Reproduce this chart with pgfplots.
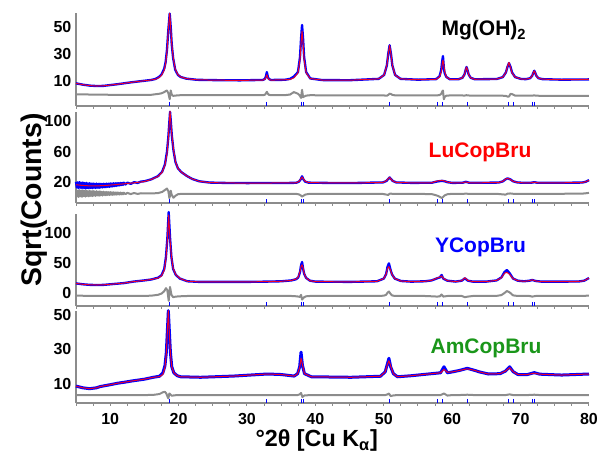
\documentclass[border=0pt]{standalone}
\usepackage{fontspec}
\setmainfont{Liberation Sans}
\usepackage{pgfplots}
\usepackage{pgfplotstable}
\pgfplotsset{compat=1.18}

\definecolor{obsblue}{RGB}{0,0,255}
\definecolor{calcred}{RGB}{235,0,40}
\definecolor{difgray}{RGB}{140,140,140}
\definecolor{amgreen}{RGB}{26,150,26}

% x  obs  calc  diff  -- Mg(OH)2
\pgfplotstableread{
x obs calc diff
5 8.3 8.3 0.1
6 7.3 7.3 0.1
7 6.6 6.6 0.0
8 6.3 6.3 0.0
9 6.4 6.4 -0.1
10 7.0 7.0 -0.2
11 7.6 7.6 -0.2
12 8.3 8.3 -0.3
13 9.0 9.0 -0.3
14 9.6 9.6 -0.3
15 10.2 10.2 -0.3
16 10.8 10.8 -0.2
16.6 11.5 11.3 0.2
17.1 12.9 12.5 0.5
17.5 14.8 14.2 0.9
17.9 19.2 18.2 1.8
18.1 24.0 22.8 2.5
18.3 33.0 31.8 3.0
18.5 48.0 48.2 1.0
18.7 60.0 60.2 -3.5
18.85 50.0 49.0 3.0
19.0 37.0 37.5 0.0
19.2 27.0 27.8 -1.0
19.5 18.5 19.0 -0.8
19.9 14.5 14.7 -0.6
20.3 13.0 13.1 -0.5
21.1 11.8 11.8 -0.5
22.7 10.9 10.9 -0.5
26 10.6 10.6 -0.5
29 10.5 10.5 -0.5
32.3 10.8 10.7 -0.5
32.6 11.5 11.2 -0.2
32.75 13.1 12.3 0.6
32.9 16.6 14.6 2.0
33.05 13.1 12.3 0.6
33.2 11.5 11.2 -0.2
33.5 10.8 10.7 -0.5
35.5 10.9 10.9 -0.5
36.3 11.6 11.2 0.0
36.85 13.3 12.3 1.8
37.45 16.6 16.0 0.6
37.75 27.8 25.9 -1.0
37.9 41.3 37.9 -2.5
38.05 51.5 47.0 3.5
38.2 41.3 37.9 -2.0
38.35 27.8 25.9 -1.5
38.65 16.6 16.0 -0.8
39.25 11.9 11.8 -0.5
41 10.7 10.7 -0.6
45 10.6 10.6 -0.6
49.25 11.6 11.6 -0.6
50.05 14.5 14.5 -0.7
50.45 21.6 21.8 -0.9
50.65 30.1 30.1 -0.3
50.85 36.5 36.5 0.6
51.05 30.1 29.8 0.4
51.25 21.6 21.6 -0.3
51.65 14.5 14.5 -0.6
52.45 11.6 11.6 -0.7
55 11.0 11.0 -0.7
57.65 11.4 11.3 -0.7
58.15 13.5 13.0 -0.4
58.4 18.3 17.0 0.5
58.52 24.1 21.8 2.0
58.65 28.5 25.5 3.0
58.78 20.0 21.8 -3.5
58.9 15.8 17.0 -1.8
59.15 13.0 13.0 -0.8
59.65 11.3 11.3 -0.7
60.9 11.3 11.3 -0.7
61.5 12.4 12.4 -0.7
61.8 14.9 14.9 -0.8
61.95 18.0 18.0 -0.6
62.1 20.4 20.4 -0.5
62.25 18.0 18.0 -0.7
62.4 14.9 14.9 -0.7
62.7 12.4 12.4 -0.8
63.3 11.3 11.3 -0.8
66.5 11.5 11.5 -0.8
67.4 12.9 12.9 -0.9
67.85 16.3 16.3 -1.0
68.08 20.4 20.8 -1.5
68.3 23.3 23.8 -1.5
68.53 20.4 19.9 0.5
68.75 16.3 16.0 0.3
69.2 12.9 12.9 -0.8
70.1 11.5 11.5 -0.9
70.8 11.4 11.4 -0.9
71.4 12.1 12.1 -0.9
71.7 13.9 13.9 -0.9
71.85 16.0 16.0 -0.7
72.0 17.6 17.6 -0.6
72.15 16.0 16.0 -0.8
72.3 13.9 13.9 -0.9
72.6 12.1 12.1 -0.9
73.2 11.4 11.4 -1.0
76 11.0 11.0 -1.0
80 11.2 11.2 -1.0
}\tabMg

% LuCopBru
\pgfplotstableread{
x obs calc diff
5 20.3 16.5 9.6
5.125 12.8 16.35 0.9
5.25 19.6 16.2 8.7
5.375 12.0 16.1 0.4
5.5 19.9 16.0 9.4
5.625 12.6 15.85 1.3
5.75 19.1 15.7 8.9
5.875 11.9 15.6 0.6
6 19.3 15.5 9.1
6.125 12.3 15.45 1.5
6.25 18.6 15.4 8.4
6.375 11.6 15.3 0.9
6.5 18.9 15.2 8.8
6.625 12.1 15.15 1.6
6.75 18.2 15.1 8.1
6.875 11.8 15.05 1.2
7 18.5 15.0 8.6
7.125 12.2 15.0 1.9
7.25 17.9 15.0 7.9
7.375 11.9 15.0 1.4
7.5 18.1 15.0 8.3
7.625 12.4 15.0 2.1
7.75 17.7 15.0 7.7
7.875 12.1 15.0 1.8
8 17.9 15.0 8.0
8.125 12.6 15.05 2.4
8.25 17.6 15.1 7.5
8.375 12.3 15.1 2.0
8.5 17.8 15.1 7.8
8.625 12.9 15.15 2.6
8.75 17.5 15.2 7.2
8.875 12.8 15.25 2.3
9 17.8 15.3 7.4
9.125 13.3 15.4 2.9
9.25 17.6 15.5 6.9
9.375 13.2 15.55 2.6
9.5 17.9 15.6 7.1
9.625 13.7 15.7 3.1
9.75 17.8 15.8 6.7
9.875 13.6 15.9 2.9
10 18.2 16.0 6.9
10.125 14.1 16.1 3.3
10.25 18.1 16.2 6.5
10.375 14.2 16.3 3.1
10.5 18.4 16.4 6.6
10.625 14.7 16.5 3.5
10.75 18.3 16.6 6.3
10.875 14.9 16.7 3.4
11 18.6 16.8 6.4
11.125 15.3 16.9 3.7
11.25 18.5 17.0 6.1
11.375 15.6 17.1 3.6
11.5 18.8 17.2 6.2
11.625 16.0 17.3 3.9
11.75 18.8 17.4 5.9
11.875 16.3 17.5 3.8
12 19.1 17.6 6.0
12.25 16.8 17.85 4.1
12.5 19.2 18.1 5.8
13 17.6 18.5 4.2
13.5 19.8 19.0 5.6
14 18.8 19.5 4.4
14.5 20.6 20.0 5.3
15 21.0 20.8 5.0
16 23.5 23.3 5.0
17 27.8 27.5 5.5
17.6 33.5 33.0 7.0
18.0 43.0 42.0 9.5
18.3 59.5 57.0 11.5
18.5 79.0 78.0 8.0
18.65 99.0 99.0 -1.0
18.75 112.0 113.0 2.0
18.85 101.0 99.5 8.6
19.0 82.0 83.0 3.0
19.25 61.5 63.0 -0.6
19.55 46.0 46.5 2.0
19.9 38.0 38.0 4.0
20.4 33.0 33.0 4.5
21.2 28.0 28.0 4.5
22 24.0 24.0 4.6
23 21.0 21.0 4.6
24.5 19.3 19.3 4.6
27 18.8 18.8 4.6
30 18.6 18.6 4.6
33 18.7 18.7 4.5
36 18.8 18.8 4.5
37.2 19.0 19.0 4.4
37.6 20.5 20.8 3.8
37.85 23.5 24.0 2.5
38.05 27.5 26.5 1.0
38.25 23.5 24.0 2.0
38.5 20.5 21.0 3.5
39 19.2 19.3 4.3
42 18.8 18.8 4.5
46 18.8 18.8 4.5
49.9 19.5 19.5 4.3
50.4 21.5 21.8 3.5
50.65 24.0 24.5 3.0
50.85 26.0 26.0 4.6
51.05 24.0 23.8 4.8
51.3 21.5 21.5 4.4
51.8 19.5 19.5 4.4
54 18.9 18.9 4.5
57.0 19.0 19.0 4.2
57.6 20.3 20.8 2.8
58.0 21.0 21.6 1.5
58.5 21.5 22.2 -1.0
58.9 21.0 21.3 2.5
59.3 19.8 19.9 4.0
60 18.9 18.9 4.5
61.5 19.0 19.0 4.4
62.0 20.3 20.1 4.8
62.5 19.0 19.0 4.4
64 19.0 19.0 4.5
66.8 19.3 19.3 4.3
67.4 20.8 20.9 3.8
67.8 23.5 23.8 3.5
68.1 24.8 24.8 4.8
68.5 23.5 23.3 5.0
68.9 21.0 21.0 4.6
69.5 19.5 19.5 4.5
70.3 19.0 19.0 4.5
71.5 19.0 19.0 4.5
72.0 19.8 19.8 4.6
72.5 19.0 19.0 4.5
76 19.0 19.0 4.6
79 19.3 19.3 4.8
79.5 20.3 20.3 5.2
80 22.5 22.3 5.8
}\tabLu

% YCopBru
\pgfplotstableread{
x obs calc diff
5 16.0 16.0 -4.5
6 14.5 14.5 -4.6
7 13.6 13.6 -4.8
8 13.3 13.3 -5.0
9 13.5 13.5 -5.0
10 14.5 14.5 -5.0
11 15.5 15.5 -5.0
12 16.5 16.5 -5.0
13.4 19.0 19.0 -5.0
15 21.0 21.0 -4.8
16 22.5 22.5 -4.5
17 25.5 25.0 -3.0
17.5 29.5 28.5 -1.0
17.9 40.0 38.0 3.0
18.15 60.0 57.0 8.0
18.35 90.0 88.0 5.0
18.55 135.0 130.0 -13.0
18.75 92.0 88.0 10.0
18.95 60.0 61.0 -3.0
19.2 40.0 41.0 -7.0
19.6 30.0 30.5 -6.0
20.2 24.0 24.2 -5.5
21.3 19.5 19.5 -5.0
23 18.5 18.5 -5.0
26 18.5 18.5 -5.0
30 18.5 18.5 -5.0
33 19.0 19.0 -5.0
35 19.5 19.5 -5.0
36.5 21.0 21.0 -5.0
37.2 23.0 23.3 -5.5
37.5 26.0 27.0 -6.0
37.75 35.0 36.0 -6.5
37.9 46.0 44.0 -3.0
38.05 51.7 47.0 -11.0
38.2 41.0 42.0 -9.0
38.35 32.0 33.0 -7.0
38.65 25.0 25.0 -5.5
39.2 20.5 20.5 -5.0
40 19.0 19.0 -5.0
45 18.5 18.5 -5.0
49 19.5 19.5 -5.0
50.0 24.0 24.0 -4.5
50.35 32.0 32.0 -3.0
50.55 44.0 41.0 0.5
50.75 49.4 44.0 2.5
50.95 40.0 39.0 -1.0
51.2 31.0 31.0 -4.0
51.6 24.0 24.0 -5.0
52.5 20.0 20.0 -5.0
54 18.9 18.9 -5.0
56 19.5 19.5 -5.0
57 21.0 21.0 -5.5
57.8 24.5 25.0 -6.0
58.2 26.0 26.5 -5.5
58.45 30.0 28.5 -2.5
58.7 24.0 24.5 -6.0
59.3 20.5 20.5 -5.0
60.5 19.0 19.0 -5.0
61.4 20.5 20.5 -5.0
61.85 24.5 25.5 -7.0
62.3 20.5 20.8 -6.0
63 19.0 19.0 -5.0
65 19.0 19.0 -5.0
66.5 21.0 21.0 -4.8
67.2 26.0 25.5 -3.5
67.65 35.0 33.0 0.0
68.0 38.3 34.4 3.3
68.4 33.0 31.0 1.0
68.9 24.0 24.0 -4.0
69.6 20.5 20.5 -5.0
70.5 19.5 19.5 -5.0
71.3 20.5 20.5 -5.0
71.7 21.7 22.0 -6.0
72.2 20.0 20.0 -5.0
73 19.0 19.0 -5.0
76 18.9 18.9 -5.0
78.5 19.2 19.2 -5.0
79.3 20.5 20.5 -4.8
79.7 23.0 23.0 -4.5
80 25.0 25.0 -4.5
}\tabY

% AmCopBru
\pgfplotstableread{
x obs calc diff
5 8.8 8.8 3.6
6 7.8 7.8 3.6
7 7.3 7.3 3.6
8 7.8 7.8 3.6
8.5 8.5 8.5 3.6
10 9.6 9.6 3.6
11 10.4 10.4 3.6
12 11.0 11.0 3.6
13.4 11.9 11.9 3.6
15 12.8 12.8 3.6
16.3 13.9 13.9 3.7
17.2 14.5 14.3 4.2
17.7 16.5 15.5 5.2
18.0 20.5 19.5 5.5
18.2 28.0 27.5 4.5
18.35 40.0 40.0 3.0
18.5 52.5 52.5 1.7
18.65 40.5 39.5 4.5
18.8 28.5 28.0 4.0
19.0 20.0 20.0 3.2
19.3 16.5 16.5 3.4
19.8 14.8 14.8 3.6
20.3 14.2 14.2 3.6
23.2 13.9 13.9 3.6
28 14.6 14.6 3.6
33 15.8 15.8 3.6
35 15.5 15.5 3.6
36.9 14.6 14.6 3.6
37.4 16.0 16.0 3.6
37.7 20.0 19.5 4.0
37.9 28.5 25.0 4.8
38.1 21.0 21.5 2.5
38.4 16.0 16.0 3.4
39.4 14.2 14.2 3.6
45.2 13.9 13.9 3.6
49.5 14.5 14.5 3.6
50.2 17.0 17.0 3.6
50.55 22.0 21.5 4.0
50.75 24.9 23.5 4.5
51.0 20.0 20.5 3.0
51.4 16.0 16.0 3.4
52 14.2 14.2 3.6
54 14.8 14.8 3.6
56.5 15.8 15.8 3.6
58.3 16.5 16.5 3.6
58.8 20.0 18.5 4.5
59.3 16.5 16.8 3.3
60 17.0 17.0 3.6
61 17.8 17.8 3.6
62.2 19.1 18.8 3.8
63.2 18.0 18.0 3.6
64 17.0 17.0 3.6
65.3 15.8 15.8 3.6
67 16.0 16.0 3.6
67.8 17.5 17.5 3.6
68.4 20.0 19.5 4.0
68.9 17.2 17.2 3.6
69.6 15.5 15.5 3.6
71 15.5 15.5 3.6
72.0 16.6 16.3 3.8
72.8 15.7 15.7 3.6
76 15.2 15.2 3.6
80 15.8 15.8 3.6
}\tabAm

% reflection positions, with the height of the tick in each panel
\pgfplotstableread{
x ya yb yc yd
18.6 -7.0 -4.9 -18.4 0.2
32.9 -7.0 -4.9 -18.4 0.2
37.9 -7.0 -4.9 -18.4 0.2
38.2 -7.0 -4.9 -18.4 0.2
50.85 -7.0 -4.9 -18.4 0.2
57.9 -7.0 -4.9 -18.4 0.2
58.6 -7.0 -4.9 -18.4 0.2
62.2 -7.0 -4.9 -18.4 0.2
68.2 -7.0 -4.9 -18.4 0.2
68.9 -7.0 -4.9 -18.4 0.2
71.8 -7.0 -4.9 -18.4 0.2
72.1 -7.0 -4.9 -18.4 0.2
}\tabBragg

\pgfplotsset{
  panel/.style={
    scale only axis, width=307.8pt, anchor=south west,
    xmin=5, xmax=80, clip=false,
    axis x line*=bottom, axis y line*=left,
    axis line style={draw=difgray, line width=0.9pt},
    xtick={10,20,...,80}, minor xtick={5,7.5,...,80},
    tick align=outside,
    major tick length=1.6pt, minor tick length=1.6pt,
    xtick style={difgray, line width=0.6pt},
    ytick style={draw=none},
    tick label style={font=\fontsize{9.6}{11}\selectfont\bfseries},
    /pgf/number format/assume math mode=true,
    yticklabel style={inner sep=1pt},
  },
  obs/.style={obsblue, line width=1.4pt, line join=round},
  calc/.style={calcred, line width=0.6pt, line join=round},
  dif/.style={difgray, line width=1.2pt, line join=round},
  bragg/.style={obsblue, only marks, mark=|, mark size=1.2pt, mark options={line width=0.6pt}},
}

\begin{document}
\begin{tikzpicture}
\useasboundingbox (0pt,0pt) rectangle (360.6pt,-272.4pt);

\begin{axis}[panel, at={(45.6pt,-63.6pt)}, height=55.8pt,
  ymin=-8.5, ymax=60.4, ytick={10,30,50}, xticklabels={}]
\addplot[dif] table[x=x, y=diff] {\tabMg};
\addplot[obs] table[x=x, y=obs] {\tabMg};
\addplot[calc] table[x=x, y=calc] {\tabMg};
\addplot[bragg] table[x=x, y=ya] {\tabBragg};
\end{axis}

\begin{axis}[panel, at={(45.6pt,-121.8pt)}, height=54.6pt,
  ymin=-7.5, ymax=111.8, ytick={20,60,100}, xticklabels={}]
\addplot[dif] table[x=x, y=diff] {\tabLu};
\addplot[obs] table[x=x, y=obs] {\tabLu};
\addplot[calc] table[x=x, y=calc] {\tabLu};
\addplot[bragg] table[x=x, y=yb] {\tabBragg};
\end{axis}

\begin{axis}[panel, at={(45.6pt,-183.6pt)}, height=55.2pt,
  ymin=-21.7, ymax=131.7, ytick={0,50,100}, xticklabels={}]
\addplot[dif] table[x=x, y=diff] {\tabY};
\addplot[obs] table[x=x, y=obs] {\tabY};
\addplot[calc] table[x=x, y=calc] {\tabY};
\addplot[bragg] table[x=x, y=yc] {\tabBragg};
\end{axis}

\begin{axis}[panel, at={(45.6pt,-241.8pt)}, height=55.2pt,
  ymin=-1, ymax=52.3, ytick={10,30,50},
  xticklabel style={yshift=-1pt}]
\addplot[dif] table[x=x, y=diff] {\tabAm};
\addplot[obs, line width=1.8pt] table[x=x, y=obs] {\tabAm};
\addplot[calc] table[x=x, y=calc] {\tabAm};
\addplot[bragg] table[x=x, y=yd] {\tabBragg};
\end{axis}

\node[anchor=base, font=\fontsize{12.6}{14}\selectfont\bfseries] at (290.4pt,-21.6pt) {Mg(OH)\textsubscript{2}};
\node[anchor=base, font=\fontsize{12.6}{14}\selectfont\bfseries, text=red] at (288pt,-94.8pt) {LuCopBru};
\node[anchor=base, font=\fontsize{12.6}{14}\selectfont\bfseries, text=blue] at (288.3pt,-151.2pt) {YCopBru};
\node[anchor=base, font=\fontsize{12.6}{14}\selectfont\bfseries, text=amgreen] at (291.6pt,-211.8pt) {AmCopBru};

\node[anchor=base, rotate=90, font=\fontsize{17}{19}\selectfont\bfseries] at (25pt,-120pt) {Sqrt(Counts)};
\node[anchor=base, font=\fontsize{14}{16}\selectfont\bfseries] at (190pt,-268pt) {°2θ [Cu K\textsubscript{α}]};
\end{tikzpicture}
\end{document}
